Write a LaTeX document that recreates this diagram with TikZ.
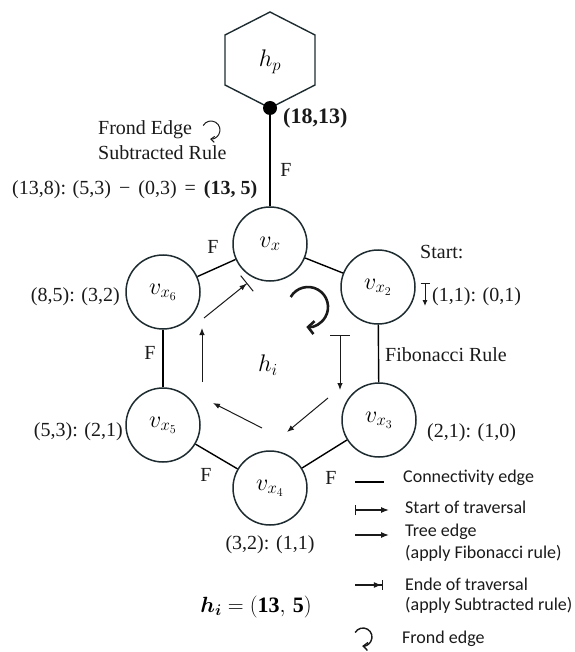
\RequirePackage{fix-cm}
\documentclass[tikz,border=0pt]{standalone}
\usepackage{amsmath,bm}
\usepackage{fontspec}
\setmainfont{Liberation Serif}
\newfontfamily\legendfont{Carlito}
\usetikzlibrary{arrows.meta}
\definecolor{circ}{HTML}{1E2C31}
\definecolor{ink}{HTML}{1A1A1A}
\begin{document}
\begin{tikzpicture}[x=1pt,y=-1pt,
  vert/.style={circle, draw=circ, line width=1.5pt, minimum size=74pt, inner sep=0pt, font=\fontsize{24}{28}\selectfont},
  lbl/.style={font=\fontsize{20}{24}\selectfont, inner sep=0pt, text=ink},
  txt/.style={font=\fontsize{20}{24}\selectfont, inner sep=0pt, text=ink},
  edge/.style={line width=1.4pt, draw=black},
  trav/.style={line width=1pt, draw=ink},
  tip/.style={-{Latex[length=7pt,width=5.5pt]}},
  legtip/.style={-{Latex[length=8pt,width=6pt]}},
  leg/.style={font=\legendfont\fontsize{18}{21}\selectfont, inner sep=0pt, anchor=west, text=ink},
  curl/.style={line width=#1, draw=ink}
]
\useasboundingbox (0,0) rectangle (574,652);
% parent hexagon
\node[font=\fontsize{24}{28}\selectfont, inner sep=0pt] (hp) at (270,62) {$h_p$};
\draw[line width=1.4pt, draw=circ] (270,12) -- (315,35) -- (315,85) -- (270,108) -- (225,85) -- (225,35) -- cycle;
\node[circle, fill=black, minimum size=14pt, inner sep=0pt] (dot) at (270,108) {};
\node[lbl, anchor=west, font=\fontsize{22}{26}\selectfont] (c1813) at (283,118) {\textbf{(18,13)}};
% vertices
\node[vert] (vx)  at (270,244) {$v_x$};
\node[vert] (vx2) at (378,287) {$v_{x_2}$};
\node[vert] (vx3) at (379,420) {$v_{x_3}$};
\node[vert] (vx4) at (270,488) {$v_{x_4}$};
\node[vert] (vx5) at (163,425) {$v_{x_5}$};
\node[vert] (vx6) at (163,292) {$v_{x_6}$};
% connectivity edges
\draw[edge] (dot) -- (vx);
\draw[edge] (vx) -- (vx2);
\draw[edge] (vx2) -- (vx3);
\draw[edge] (vx3) -- (vx4);
\draw[edge] (vx4) -- (vx5);
\draw[edge] (vx5) -- (vx6);
\draw[edge] (vx6) -- (vx);
% F labels
\node[txt] (f1) at (286,170) {F};
\node[txt] (f2) at (213,247) {F};
\node[txt] (f3) at (150,353) {F};
\node[txt] (f4) at (206,475) {F};
\node[txt] (f5) at (331,478) {F};
% frond edge text
\node[txt, anchor=west] (frond) at (98,130) {Frond Edge};
\draw[curl=1pt, -{Straight Barb[length=3.5pt,width=6pt]}] (203.2,125.5) arc[start angle=210, end angle=455, radius=9];
\node[txt, anchor=west] (subr) at (98,153) {Subtracted Rule};
\node[lbl, anchor=west] (eq) at (12,190) {(13,8): (5,3)\hspace{3pt} − \hspace{3pt}(0,3)\hspace{3pt} = \hspace{3pt}\textbf{(13, 5)}};
% start
\node[txt, anchor=west] (start) at (420,252) {Start:};
\draw[trav, {Bar[width=9pt]}-{Latex[length=6pt,width=5pt]}] (425,283) -- (425,306);
\node[lbl, anchor=west] (s11) at (432,297) {(1,1): (0,1)};
\node[txt, anchor=west] (fib) at (385,355) {Fibonacci Rule};
% coordinate labels
\node[lbl, anchor=west] (c21) at (427,433) {(2,1): (1,0)};
\node[lbl, anchor=east] (c85) at (120,297) {(8,5): (3,2)};
\node[lbl, anchor=east] (c53) at (123,432) {(5,3): (2,1)};
\node[lbl] (c32) at (270,545) {(3,2): (1,1)};
\node[font=\fontsize{22}{26}\selectfont, inner sep=0pt] (hires) at (256,607) {$\bm{h_i}=\mathbf{(13,\,5)}$};
% inner face
\node[font=\fontsize{24}{28}\selectfont, inner sep=0pt] (hi) at (268,365) {$h_i$};
% traversal arrows
\coordinate (a0) at (340,335); \coordinate (a1) at (340,390);
\draw[trav, {Bar[width=20pt]}-{Latex[length=7pt,width=5.5pt]}] (a0) -- (a1);
\coordinate (b0) at (328,398); \coordinate (b1) at (287,432);
\draw[trav, tip] (b0) -- (b1);
\coordinate (c0) at (262,428); \coordinate (c1) at (213,403);
\draw[trav, tip] (c0) -- (c1);
\coordinate (d0) at (202,382); \coordinate (d1) at (202,328);
\draw[trav, tip] (d0) -- (d1);
\coordinate (e0) at (204,318); \coordinate (e1) at (245,285);
\draw[trav, -{Latex[length=7pt,width=5.5pt] Bar[width=20pt,sep=-3pt]}] (e0) -- (e1);
% frond curl
\draw[curl=2.6pt, -{Straight Barb[length=6pt,width=13pt]}] (290.7,297) arc[start angle=210, end angle=455, radius=20];
% legend
\coordinate (l1a) at (355,482); \coordinate (l1b) at (384,482);
\draw[edge] (l1a) -- (l1b);
\node[leg] (t1) at (403,478) {Connectivity edge};
\coordinate (l2a) at (355,510); \coordinate (l2b) at (389,510);
\draw[trav, line width=1.2pt, {Bar[width=10pt]}-{Latex[length=8pt,width=6pt]}] (l2a) -- (l2b);
\node[leg] (t2) at (405,507) {Start of traversal};
\coordinate (l3a) at (355,535); \coordinate (l3b) at (389,535);
\draw[trav, line width=1.2pt, legtip] (l3a) -- (l3b);
\node[leg] (t3) at (405,532) {Tree edge};
\node[leg] (t3b) at (405,553) {(apply Fibonacci rule)};
\coordinate (l4a) at (355,585); \coordinate (l4b) at (384,585);
\draw[trav, line width=1.2pt, -{Latex[length=8pt,width=6pt] Bar[width=10pt,sep=1pt]}] (l4a) -- (l4b);
\node[leg] (t4) at (405,584) {Ende of traversal};
\node[leg] (t4b) at (405,605) {(apply Subtracted rule)};
\draw[curl=1.4pt, -{Straight Barb[length=4.5pt,width=8pt]}] (355.2,632.5) arc[start angle=210, end angle=455, radius=9];
\node[leg] (t5) at (402,639) {Frond edge};
\end{tikzpicture}
\end{document}
